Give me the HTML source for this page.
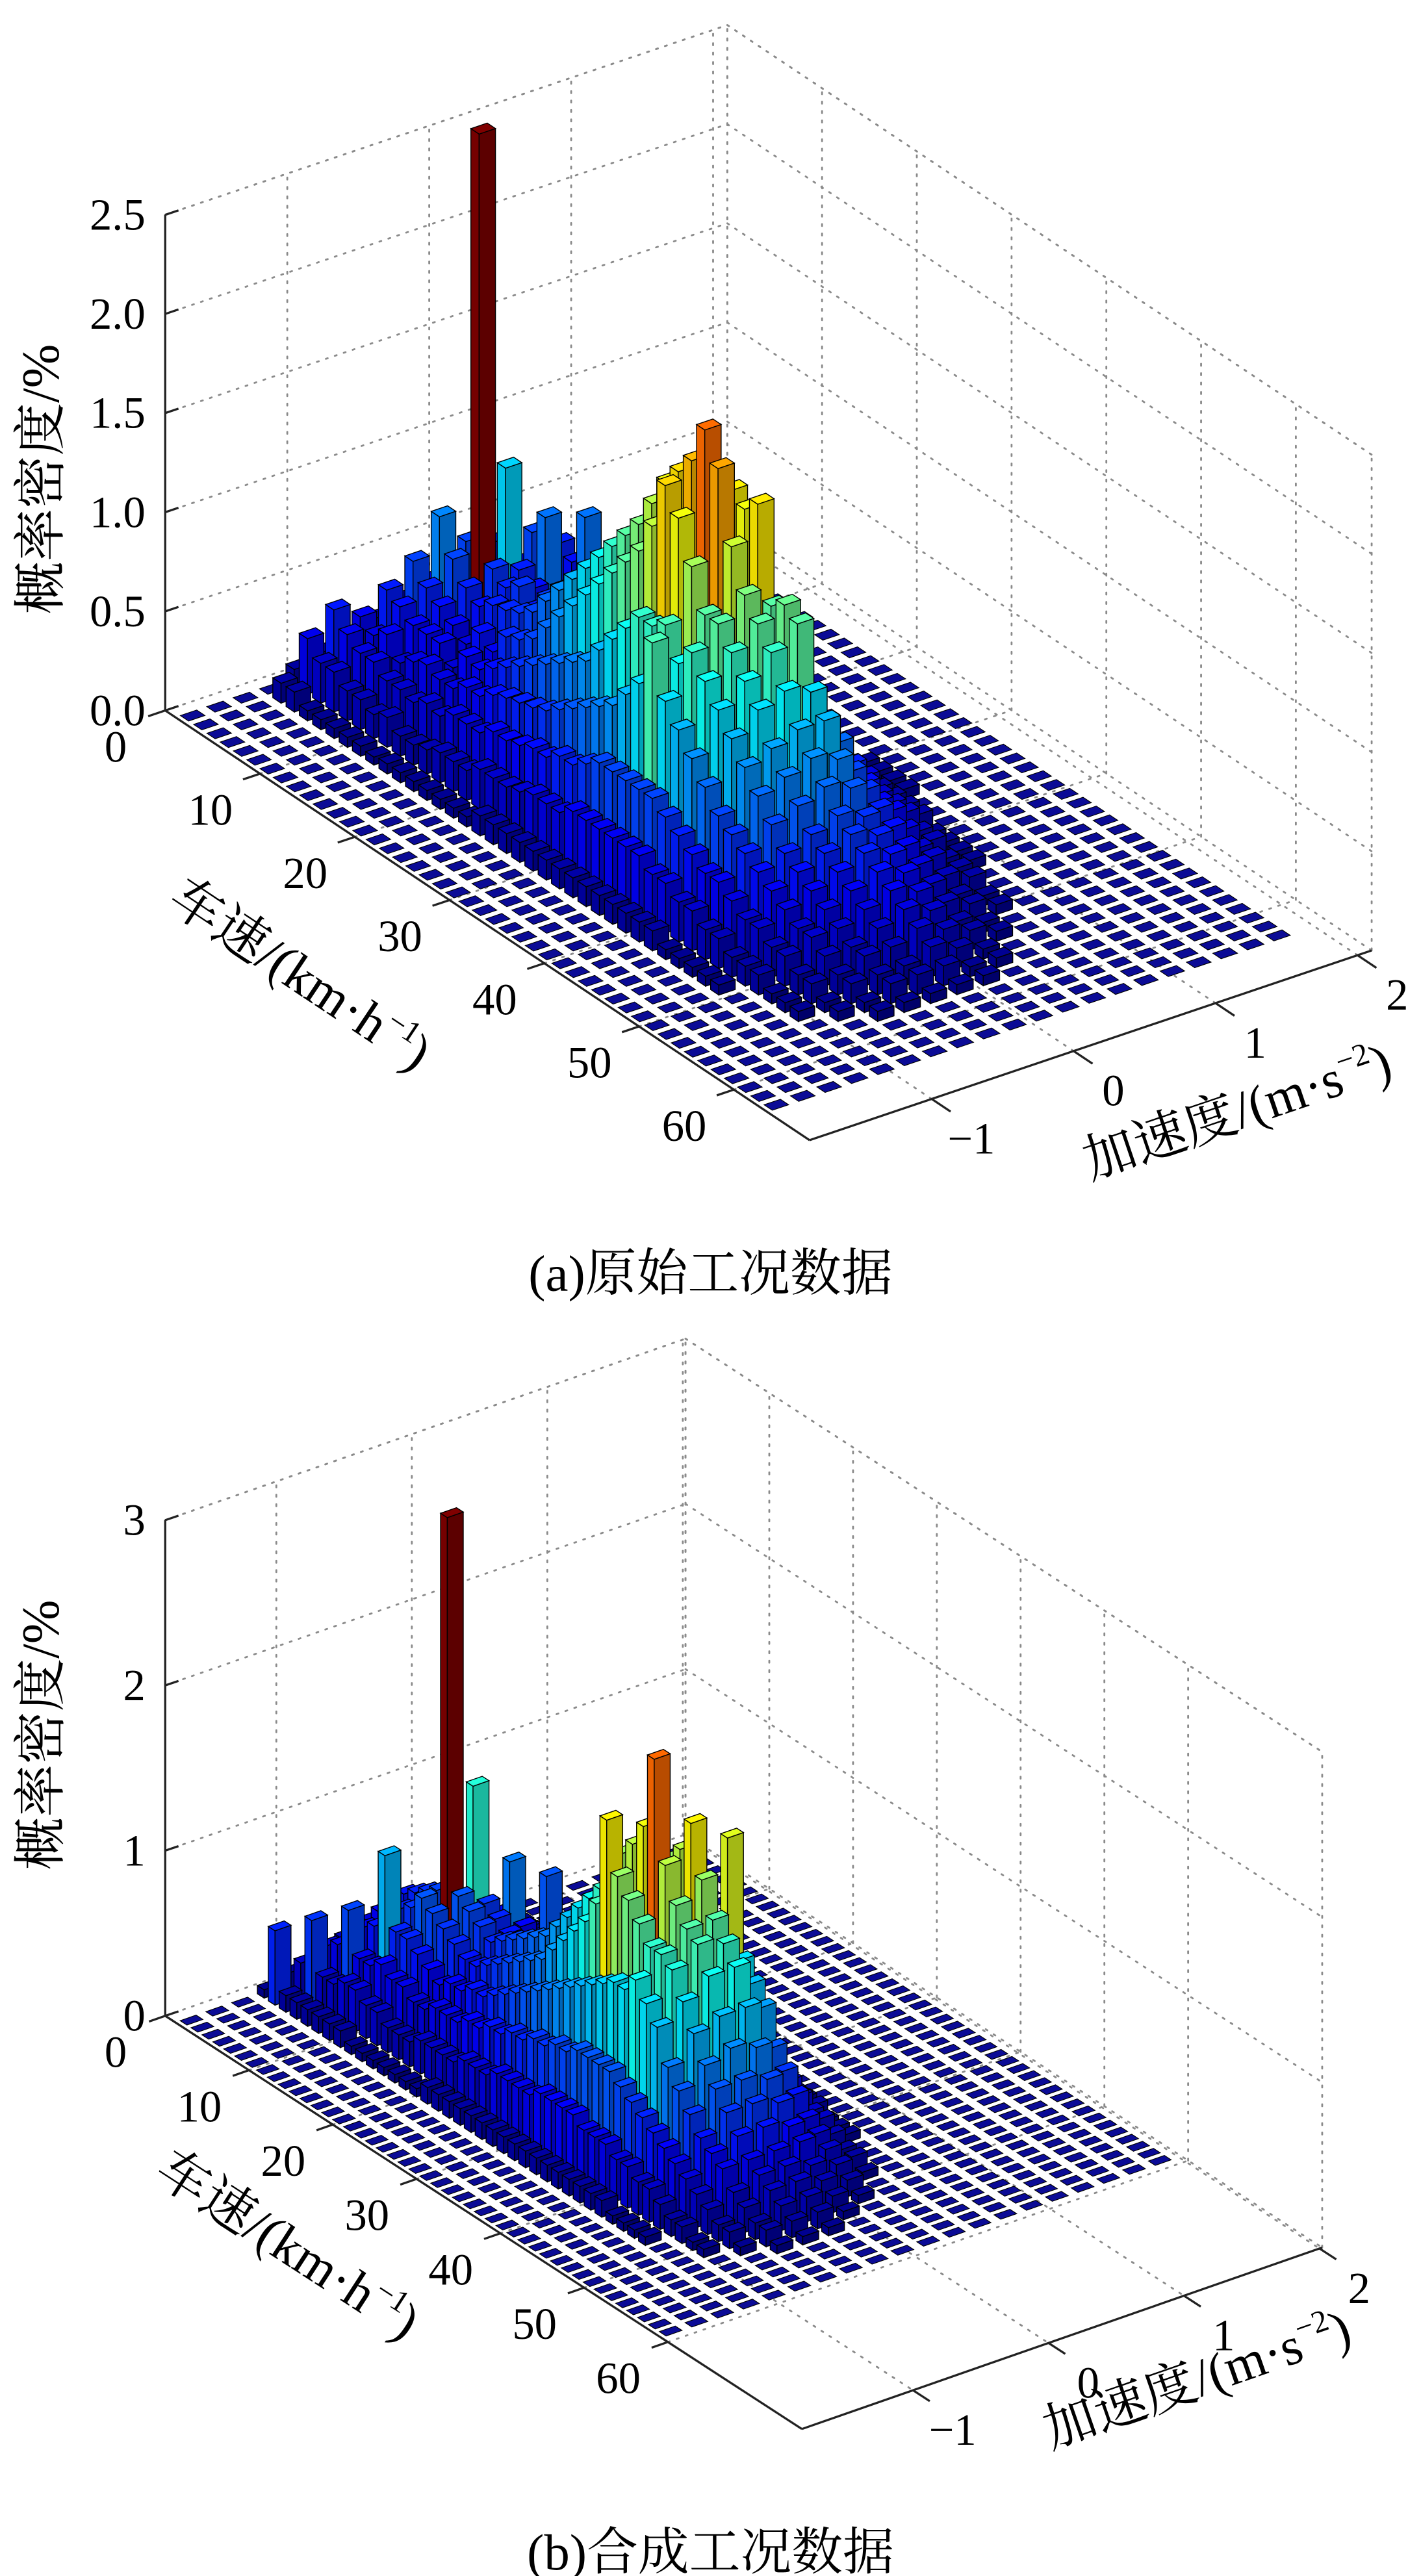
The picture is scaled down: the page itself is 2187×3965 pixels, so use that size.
<!DOCTYPE html>
<html><head><meta charset="utf-8"><title>概率密度 3D 直方图</title>
<style>
html,body{margin:0;padding:0;background:#fff;}
svg{display:block;}
text{font-family:"Liberation Serif","Noto Serif CJK SC",serif;fill:#000;}
</style></head>
<body>
<svg id="fig" xmlns="http://www.w3.org/2000/svg" width="2187" height="3965" viewBox="0 0 860 1559" preserveAspectRatio="none">
<g id="chartA"></g>
<g id="chartB"></g>
<text x="430" y="781" font-size="31" text-anchor="middle">(a)原始工况数据</text>
<text x="430" y="1555" font-size="31" text-anchor="middle">(b)合成工况数据</text>
</svg>
<script>
const speedTicks = [0, 10, 20, 30, 40, 50, 60];
const speedTickLabels = ["0", "10", "20", "30", "40", "50", "60"];
const accelTicks = [-1, 0, 1, 2];
const accelTickLabels = ["\u22121", "0", "1", "2"];
const zTicksA = [0, 0.5, 1.0, 1.5, 2.0, 2.5];
const zTickLabelsA = ["0.0", "0.5", "1.0", "1.5", "2.0", "2.5"];
const zTicksB = [0, 1, 2, 3];
const zTickLabelsB = ["0", "1", "2", "3"];

const heightsA = [
[0,0,0,0,0.08,0.12,0.15,0.2,0.25,0.3,0.35,0.3,0.2,0.1,0,0,0,0,0,0],
[0,0,0,0.1,0.28,0.38,0.3,0.39,0.49,0.67,0.5,0.45,0.3,0.2,0.1,0,0,0,0,0],
[0,0,0,0.1,0.2,0.3,0.25,0.35,0.4,0.5,2.6,0.87,0.5,0.4,0.2,0.1,0,0,0,0],
[0,0,0,0.05,0.2,0.25,0.3,0.3,0.35,0.4,0.45,0.4,0.62,0.35,0.2,0.05,0,0,0,0],
[0,0,0,0.05,0.15,0.25,0.2,0.3,0.3,0.35,0.4,0.35,0.3,0.62,0.2,0.05,0,0,0,0],
[0,0,0,0.05,0.15,0.2,0.25,0.3,0.25,0.4,0.45,0.3,0.3,0.25,0.15,0.05,0,0,0,0],
[0,0,0,0.05,0.12,0.2,0.28,0.22,0.35,0.42,0.38,0.35,0.3,0.2,0.1,0.05,0,0,0,0],
[0,0,0,0.05,0.15,0.18,0.25,0.32,0.3,0.45,0.48,0.35,0.28,0.2,0.1,0,0,0,0,0],
[0,0,0,0.04,0.1,0.22,0.25,0.3,0.42,0.5,0.52,0.4,0.3,0.18,0.1,0,0,0,0,0],
[0,0,0,0.05,0.1,0.2,0.3,0.35,0.45,0.6,0.55,0.45,0.3,0.2,0.08,0,0,0,0,0],
[0,0,0,0.05,0.12,0.25,0.3,0.4,0.5,0.7,0.6,0.45,0.32,0.2,0.1,0,0,0,0,0],
[0,0,0,0.05,0.15,0.25,0.35,0.45,0.6,0.8,0.7,0.5,0.35,0.2,0.1,0,0,0,0,0],
[0,0,0,0.05,0.15,0.25,0.38,0.5,0.7,0.9,0.8,0.55,0.35,0.22,0.1,0,0,0,0,0],
[0,0,0,0.05,0.15,0.3,0.4,0.55,0.8,1.0,0.9,0.6,0.4,0.2,0.1,0,0,0,0,0],
[0,0,0,0.05,0.2,0.3,0.42,0.6,0.9,1.1,1.0,0.62,0.4,0.25,0.1,0,0,0,0,0],
[0,0,0,0.05,0.2,0.32,0.45,0.65,1.0,1.2,1.1,0.7,0.45,0.25,0.1,0,0,0,0,0],
[0,0,0,0.1,0.2,0.35,0.5,0.7,1.1,1.3,1.2,0.72,0.45,0.25,0.1,0,0,0,0,0],
[0,0,0,0.1,0.22,0.35,0.55,0.8,1.2,1.45,1.3,0.8,0.5,0.3,0.1,0,0,0,0,0],
[0,0,0,0.1,0.25,0.4,0.6,0.9,1.3,1.6,1.45,0.85,0.5,0.3,0.1,0,0,0,0,0],
[0,0,0,0.1,0.25,0.4,0.65,1.0,1.47,1.7,1.5,0.9,0.5,0.3,0.1,0,0,0,0,0],
[0,0,0,0.1,0.25,0.45,0.7,1.1,1.72,1.8,1.6,0.9,0.5,0.3,0.1,0,0,0,0,0],
[0,0,0,0.1,0.3,0.5,0.8,1.1,1.6,2.0,1.65,0.9,0.5,0.3,0.1,0.05,0,0,0,0],
[0,0,0,0.1,0.3,0.5,0.9,1.15,1.4,1.85,1.6,0.85,0.5,0.3,0.1,0.05,0,0,0,0],
[0,0,0,0.1,0.3,0.5,1.15,1.0,1.2,1.5,1.67,0.8,0.5,0.3,0.1,0.05,0,0,0,0],
[0,0,0,0.1,0.3,0.5,0.9,1.1,1.2,1.3,1.2,0.8,0.45,0.25,0.1,0.05,0,0,0,0],
[0,0,0,0.1,0.3,0.5,0.8,1.0,1.1,1.2,1.25,0.7,0.4,0.25,0.1,0,0,0,0,0],
[0,0,0,0.1,0.3,0.45,0.7,0.9,1.0,1.1,1.2,0.65,0.4,0.2,0.1,0,0,0,0,0],
[0,0,0,0.1,0.25,0.4,0.6,0.8,0.9,0.95,0.9,0.6,0.35,0.2,0.1,0,0,0,0,0],
[0,0,0,0.1,0.25,0.35,0.5,0.7,0.75,0.8,0.8,0.5,0.3,0.2,0.05,0,0,0,0,0],
[0,0,0,0.1,0.2,0.3,0.45,0.6,0.65,0.7,0.65,0.45,0.3,0.15,0.05,0,0,0,0,0],
[0,0,0,0.05,0.2,0.3,0.4,0.5,0.55,0.6,0.55,0.4,0.25,0.15,0.05,0,0,0,0,0],
[0,0,0,0.05,0.15,0.25,0.35,0.4,0.45,0.5,0.45,0.35,0.2,0.1,0.05,0,0,0,0,0],
[0,0,0,0.05,0.15,0.2,0.3,0.35,0.4,0.45,0.4,0.3,0.2,0.1,0,0,0,0,0,0],
[0,0,0,0.05,0.1,0.2,0.25,0.3,0.35,0.4,0.35,0.25,0.15,0.1,0,0,0,0,0,0],
[0,0,0,0.05,0.1,0.15,0.2,0.25,0.3,0.35,0.3,0.2,0.1,0.05,0,0,0,0,0,0],
[0,0,0,0,0.1,0.15,0.2,0.2,0.25,0.3,0.25,0.15,0.1,0.05,0,0,0,0,0,0],
[0,0,0,0,0.05,0.1,0.15,0.15,0.2,0.25,0.2,0.1,0.05,0,0,0,0,0,0,0],
[0,0,0,0,0.05,0.1,0.1,0.15,0.15,0.2,0.15,0.1,0.05,0,0,0,0,0,0,0],
[0,0,0,0,0.05,0.05,0.1,0.1,0.1,0.15,0.1,0.05,0,0,0,0,0,0,0,0],
[0,0,0,0,0,0.05,0.05,0.1,0.1,0.1,0.05,0.05,0,0,0,0,0,0,0,0],
[0,0,0,0,0,0,0.05,0.05,0.05,0.05,0.05,0,0,0,0,0,0,0,0,0]
];

const heightsB = [
[0,0,0,0.05,0.1,0.15,0.2,0.25,0.3,0.2,0.1,0.05],
[0,0,0,0.45,0.2,0.25,0.3,0.35,0.4,0.3,0.2,0.1,0.05],
[0,0,0,0.1,0.5,0.3,0.35,0.4,0.45,0.35,0.25,0.1,0.05],
[0,0,0,0.1,0.2,0.55,0.4,0.45,0.5,0.4,0.3,0.15,0.05],
[0,0,0,0.1,0.2,0.3,0.87,0.5,0.55,0.45,0.3,0.15,0.05],
[0,0,0,0.1,0.25,0.3,0.45,0.6,2.85,1.17,0.35,0.2,0.05],
[0,0,0,0.1,0.25,0.35,0.45,0.55,0.6,0.5,0.7,0.2,0.05],
[0,0,0,0.1,0.2,0.3,0.4,0.5,0.55,0.45,0.35,0.6,0.05],
[0,0,0,0.05,0.2,0.3,0.35,0.45,0.5,0.4,0.3,0.2,0.1],
[0,0,0,0.05,0.15,0.25,0.3,0.4,0.45,0.4,0.3,0.2,0.05],
[0,0,0,0.05,0.15,0.25,0.35,0.4,0.5,0.45,0.3,0.15,0.05],
[0,0,0,0.05,0.15,0.3,0.35,0.45,0.55,0.5,0.35,0.2,0.05],
[0,0,0,0.05,0.2,0.3,0.4,0.5,0.6,0.55,0.35,0.2,0.05],
[0,0,0,0.05,0.2,0.3,0.4,0.55,0.65,0.6,0.4,0.2,0.05],
[0,0,0,0.05,0.2,0.35,0.45,0.6,0.7,0.65,0.4,0.25,0.05],
[0,0,0,0.1,0.2,0.35,0.5,0.65,0.8,0.7,0.45,0.25,0.05],
[0,0,0,0.1,0.25,0.4,0.55,0.7,0.9,0.75,0.5,0.25,0.1],
[0,0,0,0.1,0.25,0.4,0.6,0.8,1.0,0.85,0.5,0.3,0.1],
[0,0,0,0.1,0.25,0.45,0.65,0.9,1.1,0.95,0.55,0.3,0.1],
[0,0,0,0.1,0.3,0.45,0.7,1.0,1.2,1.05,0.6,0.3,0.1],
[0,0,0,0.1,0.3,0.5,0.75,1.1,1.35,1.15,0.6,0.3,0.1],
[0,0,0,0.1,0.3,0.5,0.8,1.25,1.5,1.3,0.65,0.3,0.1],
[0,0,0,0.1,0.3,0.55,0.85,1.8,1.6,1.4,0.7,0.3,0.1],
[0,0,0,0.1,0.35,0.55,0.9,1.5,1.75,1.5,0.75,0.3,0.1],
[0,0,0,0.1,0.35,0.6,0.95,1.4,2.2,1.6,0.8,0.3,0.1],
[0,0,0,0.1,0.35,0.6,1.0,1.3,1.6,1.8,0.85,0.3,0.1],
[0,0,0,0.1,0.35,0.6,1.0,1.2,1.4,1.5,1.7,0.3,0.1],
[0,0,0,0.1,0.3,0.6,1.1,1.2,1.3,1.3,1.0,0.3,0.1],
[0,0,0,0.1,0.3,0.55,1.0,1.15,1.25,1.2,0.9,0.3,0.1],
[0,0,0,0.1,0.3,0.5,0.9,1.0,1.1,1.1,0.8,0.3,0.1],
[0,0,0,0.1,0.25,0.45,0.7,0.85,0.9,0.9,0.6,0.25,0.05],
[0,0,0,0.1,0.25,0.4,0.6,0.7,0.75,0.7,0.5,0.2,0.05],
[0,0,0,0.05,0.2,0.35,0.5,0.6,0.6,0.55,0.4,0.2,0.05],
[0,0,0,0.05,0.2,0.3,0.4,0.5,0.5,0.45,0.3,0.15],
[0,0,0,0.05,0.15,0.25,0.35,0.4,0.4,0.35,0.25,0.1],
[0,0,0,0.05,0.1,0.2,0.3,0.3,0.3,0.3,0.2,0.1],
[0,0,0,0,0.1,0.15,0.2,0.25,0.25,0.2,0.15,0.05],
[0,0,0,0,0.05,0.1,0.15,0.2,0.2,0.15,0.1],
[0,0,0,0,0.05,0.1,0.1,0.15,0.15,0.1,0.05],
[0,0,0,0,0,0.05,0.1,0.1,0.1,0.05],
[0,0,0,0,0,0,0.05,0.05,0.05]
];

const cfgA = {id:"a", ox:100, oy:430, smin:0, smax:68, dsx:5.735, dsy:3.824,
  amin:-1.86, amax:2.1, dax:85.9, day:-29.0, zs:120, zmax:2.5,
  s0:0.8, bs:1.4, ns:45, a0:-1.86, ba:0.186, na:20,
  zlabX:28, zlabY:290, spLab:[100,548], acLab:[660,714]};
const cfgB = {id:"b", ox:100, oy:1220, smin:0, smax:76, dsx:5.07, dsy:3.29,
  amin:-1.82, amax:2.02, dax:82, day:-28.6, zs:100, zmax:3,
  s0:0.95, bs:1.3, ns:45, a0:-1.82, ba:0.19, na:20,
  zlabX:28, zlabY:1050, spLab:[92,1318], acLab:[636,1482]};

const NS = "http://www.w3.org/2000/svg";

function P(c, s, a, z) {
  return [c.ox + (s - c.smin) * c.dsx + (a - c.amin) * c.dax,
          c.oy + (s - c.smin) * c.dsy + (a - c.amin) * c.day - z * c.zs];
}
function jetRGB(t) {
  t = Math.max(0, Math.min(1, t));
  const cl = v => Math.max(0, Math.min(1, v));
  return [cl(1.5 - Math.abs(4 * t - 3)), cl(1.5 - Math.abs(4 * t - 2)), cl(1.5 - Math.abs(4 * t - 1))];
}
function rgb(c, f) {
  return "rgb(" + c.map(v => Math.round(255 * Math.min(1, v * f))).join(",") + ")";
}
function el(tag, attrs, parent) {
  const e = document.createElementNS(NS, tag);
  for (const k in attrs) e.setAttribute(k, attrs[k]);
  parent.appendChild(e);
  return e;
}
function pts(arr) { return arr.map(p => p[0].toFixed(2) + "," + p[1].toFixed(2)).join(" "); }
function line(g, p1, p2, st, name) {
  const l = el("line", {x1:p1[0], y1:p1[1], x2:p2[0], y2:p2[1]}, g);
  for (const k in st) l.setAttribute(k, st[k]);
  
  
  return l;
}

function drawChart(g, c, H, zTicks, zLabels) {
  const dot = {stroke:"#8a8a8a", "stroke-width":1.1, "stroke-dasharray":"1.2 4.5", "stroke-linecap":"round"};
  const grid = el("g", {}, g);
  
  
  zTicks.forEach(z => {
    if (z > 0) line(grid, P(c, c.smin, c.amin, z), P(c, c.smin, c.amax, z), dot, "z-gridline");
    line(grid, P(c, c.smin, c.amax, z), P(c, c.smax, c.amax, z), dot, "z-gridline");
  });
  line(grid, P(c, c.smin, c.amin, c.zmax), P(c, c.smin, c.amax, c.zmax), dot, "box-edge");
  line(grid, P(c, c.smin, c.amax, c.zmax), P(c, c.smax, c.amax, c.zmax), dot, "box-edge");
  line(grid, P(c, c.smin, c.amax, 0), P(c, c.smin, c.amax, c.zmax), dot, "box-edge");
  line(grid, P(c, c.smax, c.amax, 0), P(c, c.smax, c.amax, c.zmax), dot, "box-edge");
  accelTicks.forEach(a => {
    line(grid, P(c, c.smin, a, 0), P(c, c.smin, a, c.zmax), dot, "accel-gridline-wall");
    line(grid, P(c, c.smin, a, 0), P(c, c.smax, a, 0), dot, "accel-gridline-floor");
  });
  speedTicks.forEach(s => {
    line(grid, P(c, s, c.amax, 0), P(c, s, c.amax, c.zmax), dot, "speed-gridline-wall");
    line(grid, P(c, s, c.amin, 0), P(c, s, c.amax, 0), dot, "speed-gridline-floor");
  });

  const ax = {stroke:"#222", "stroke-width":1.3};
  const axes = el("g", {}, g);
  
  
  line(axes, P(c, c.smin, c.amin, 0), P(c, c.smin, c.amin, c.zmax), ax, "z-axis");
  line(axes, P(c, c.smin, c.amin, 0), P(c, c.smax, c.amin, 0), ax, "speed-axis");
  line(axes, P(c, c.smax, c.amin, 0), P(c, c.smax, c.amax, 0), ax, "accel-axis");
  zTicks.forEach((z, i) => {
    const p = P(c, c.smin, c.amin, z);
    line(axes, p, [p[0] + 8, p[1] - 2.7], ax, "z-tick");
    const t = el("text", {x:p[0] - 12, y:p[1] + 9, "font-size":27, "text-anchor":"end"}, axes);
    t.textContent = zLabels[i];
    
    
  });
  speedTicks.forEach((s, i) => {
    const p = P(c, s, c.amin, 0);
    const q = P(c, s, c.amin - 0.12, 0);
    line(axes, p, q, ax, "speed-tick");
    const t = el("text", {x:p[0] - 30, y:p[1] + 31, "font-size":27, "text-anchor":"middle"}, axes);
    t.textContent = speedTickLabels[i];
    
    
  });
  accelTicks.forEach((a, i) => {
    const p = P(c, c.smax, a, 0);
    const q = P(c, c.smax + 2, a, 0);
    line(axes, p, q, ax, "accel-tick");
    const t = el("text", {x:p[0] + 24, y:p[1] + 33, "font-size":27, "text-anchor":"middle"}, axes);
    t.textContent = accelTickLabels[i];
    
    
  });

  const bars = el("g", {}, g);
  
  
  let hmax = 0;
  H.forEach(r => r.forEach(v => { if (v > hmax) hmax = v; }));
  const list = [];
  for (let u = 0; u < c.ns; u++) for (let v = 0; v < c.na; v++) {
    const row = H[u] || [];
    list.push([u, v, row[v] || 0]);
  }
  list.sort((p, q) => (p[0] - p[1]) - (q[0] - q[1]) || p[0] - q[0]);
  const w = 0.62;
  list.forEach(([u, v, h]) => {
    const sc = c.s0 + c.bs * (u + 0.5), ac = c.a0 + c.ba * (v + 0.5);
    const s0 = sc - c.bs * w / 2, s1 = sc + c.bs * w / 2;
    const a0 = ac - c.ba * w / 2, a1 = ac + c.ba * w / 2;
    const bg = el("g", {}, bars);
    
    
    if (h <= 0) {
      el("polygon", {points: pts([P(c,s0,a0,0),P(c,s1,a0,0),P(c,s1,a1,0),P(c,s0,a1,0)]),
        fill:"#0b0b96", stroke:"#000", "stroke-width":0.45}, bg);
      return;
    }
    const col = jetRGB(h / hmax);
    const sw = 0.55;
    el("polygon", {points: pts([P(c,s0,a0,0),P(c,s1,a0,0),P(c,s1,a0,h),P(c,s0,a0,h)]),
      fill:rgb(col, 0.92), stroke:"#000", "stroke-width":sw}, bg);
    el("polygon", {points: pts([P(c,s1,a0,0),P(c,s1,a1,0),P(c,s1,a1,h),P(c,s1,a0,h)]),
      fill:rgb(col, 0.72), stroke:"#000", "stroke-width":sw}, bg);
    el("polygon", {points: pts([P(c,s0,a0,h),P(c,s1,a0,h),P(c,s1,a1,h),P(c,s0,a1,h)]),
      fill:rgb(col, 1.0), stroke:"#000", "stroke-width":sw}, bg);
  });

  const zt = el("text", {x:c.zlabX, y:c.zlabY, "font-size":32, "text-anchor":"middle",
    transform:"rotate(-90 " + c.zlabX + " " + c.zlabY + ")", "dominant-baseline":"middle"}, g);
  zt.textContent = "概率密度/%";
  
  

  const angS = Math.atan2(c.dsy, c.dsx) * 180 / Math.PI;
  const st = el("text", {x:c.spLab[0], y:c.spLab[1], "font-size":32,
    transform:"rotate(" + angS.toFixed(1) + " " + c.spLab[0] + " " + c.spLab[1] + ")"}, g);
  st.innerHTML = '车速/(km·h<tspan font-size="19" dy="-13">\u22121</tspan><tspan dy="13">)</tspan>';
  
  

  const angA = Math.atan2(c.day, c.dax) * 180 / Math.PI;
  const at = el("text", {x:c.acLab[0], y:c.acLab[1], "font-size":32,
    transform:"rotate(" + angA.toFixed(1) + " " + c.acLab[0] + " " + c.acLab[1] + ")"}, g);
  at.innerHTML = '加速度/(m·s<tspan font-size="19" dy="-13">\u22122</tspan><tspan dy="13">)</tspan>';
  
  
}

drawChart(document.getElementById("chartA"), cfgA, heightsA, zTicksA, zTickLabelsA);
drawChart(document.getElementById("chartB"), cfgB, heightsB, zTicksB, zTickLabelsB);
</script>
</body></html>
